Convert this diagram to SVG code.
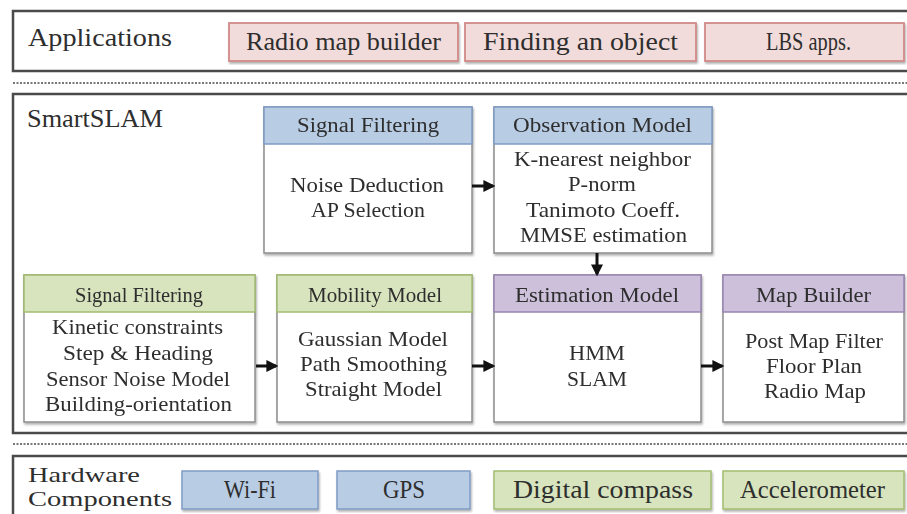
<svg xmlns="http://www.w3.org/2000/svg" width="907" height="514" viewBox="0 0 907 514">
<defs>
<filter id="sh" x="-5%" y="-5%" width="110%" height="115%">
<feDropShadow dx="1" dy="2" stdDeviation="1.2" flood-color="#000" flood-opacity="0.3"/>
</filter>
<marker id="ah" markerWidth="4" markerHeight="4" refX="3.2" refY="2" orient="auto" markerUnits="strokeWidth">
<path d="M0,0 L4,2 L0,4 Z" fill="#111"/>
</marker>
</defs>
<style>
text{font-family:"Liberation Serif","Times New Roman",serif;fill:#2e2e2e}
.panel{fill:#fff;stroke:#4a4a4a;stroke-width:2.5}
.dots{stroke:#777;stroke-width:2;stroke-dasharray:2 1.5}
.box{fill:#fff;stroke:#8c8c8c;stroke-width:1.5}
.pink{fill:#f2dcdb;stroke:#d08a88;stroke-width:1.8}
.blue{fill:#b8cce4;stroke:#7f9cc4;stroke-width:1.5}
.green{fill:#d7e4bd;stroke:#a3bd70;stroke-width:1.5}
.purple{fill:#ccc0da;stroke:#9a86b4;stroke-width:1.5}
.t{font-size:25px}
.hw{font-size:22px}
.h{font-size:20px;text-anchor:middle}
.b{font-size:21px;text-anchor:middle}
.l{font-size:25px;text-anchor:middle}
.arr{stroke:#111;stroke-width:3;fill:none;marker-end:url(#ah)}
</style>
<rect width="907" height="514" fill="#fff"/>

<g id="applications">
<rect class="panel" x="13" y="11" width="905" height="60"/>
<text class="t" x="28" y="46" textLength="144" lengthAdjust="spacingAndGlyphs">Applications</text>
<g filter="url(#sh)">
<rect class="pink" x="229" y="23" width="229" height="38"/>
<rect class="pink" x="465" y="23" width="231" height="38"/>
<rect class="pink" x="705" y="23" width="199" height="38"/>
</g>
<text class="l" x="343.5" y="50" textLength="195" lengthAdjust="spacingAndGlyphs">Radio map builder</text>
<text class="l" x="580.5" y="50" textLength="195" lengthAdjust="spacingAndGlyphs">Finding an object</text>
<text class="l" x="808.5" y="50" textLength="85" lengthAdjust="spacingAndGlyphs">LBS apps.</text>
</g>

<line class="dots" x1="13" y1="83" x2="907" y2="83"/>

<g id="smartslam">
<rect class="panel" x="13" y="94" width="905" height="339"/>
<text class="t" x="27" y="127" textLength="136" lengthAdjust="spacingAndGlyphs">SmartSLAM</text>
</g>

<g id="signal-filtering-top" filter="url(#sh)">
<rect class="box" x="264" y="107" width="208" height="146"/>
<rect class="blue" x="264" y="107" width="208" height="37"/>
<text class="h" x="368" y="132" textLength="142" lengthAdjust="spacingAndGlyphs">Signal Filtering</text>
<text class="b" x="367" y="192" textLength="154" lengthAdjust="spacingAndGlyphs">Noise Deduction</text>
<text class="b" x="368" y="217" textLength="114" lengthAdjust="spacingAndGlyphs">AP Selection</text>
</g>

<g id="observation-model" filter="url(#sh)">
<rect class="box" x="494" y="107" width="218" height="146"/>
<rect class="blue" x="494" y="107" width="218" height="37"/>
<text class="h" x="602.5" y="132" textLength="179" lengthAdjust="spacingAndGlyphs">Observation Model</text>
<text class="b" x="602.5" y="166" textLength="177" lengthAdjust="spacingAndGlyphs">K-nearest neighbor</text>
<text class="b" x="602" y="191" textLength="68" lengthAdjust="spacingAndGlyphs">P-norm</text>
<text class="b" x="603" y="217" textLength="154" lengthAdjust="spacingAndGlyphs">Tanimoto Coeff.</text>
<text class="b" x="603.5" y="242" textLength="167" lengthAdjust="spacingAndGlyphs">MMSE estimation</text>
</g>

<g id="signal-filtering-bottom" filter="url(#sh)">
<rect class="box" x="24" y="275" width="231" height="147"/>
<rect class="green" x="24" y="275" width="231" height="37"/>
<text class="h" x="139" y="302" textLength="128" lengthAdjust="spacingAndGlyphs">Signal Filtering</text>
<text class="b" x="137.5" y="334" textLength="171" lengthAdjust="spacingAndGlyphs">Kinetic constraints</text>
<text class="b" x="138" y="360" textLength="150" lengthAdjust="spacingAndGlyphs">Step &amp; Heading</text>
<text class="b" x="138" y="386" textLength="184" lengthAdjust="spacingAndGlyphs">Sensor Noise Model</text>
<text class="b" x="138.5" y="411" textLength="187" lengthAdjust="spacingAndGlyphs">Building-orientation</text>
</g>

<g id="mobility-model" filter="url(#sh)">
<rect class="box" x="277" y="275" width="195" height="147"/>
<rect class="green" x="277" y="275" width="195" height="37"/>
<text class="h" x="375" y="302" textLength="134" lengthAdjust="spacingAndGlyphs">Mobility Model</text>
<text class="b" x="373" y="346" textLength="150" lengthAdjust="spacingAndGlyphs">Gaussian Model</text>
<text class="b" x="373.5" y="371" textLength="147" lengthAdjust="spacingAndGlyphs">Path Smoothing</text>
<text class="b" x="373.5" y="396" textLength="137" lengthAdjust="spacingAndGlyphs">Straight Model</text>
</g>

<g id="estimation-model" filter="url(#sh)">
<rect class="box" x="494" y="275" width="207" height="147"/>
<rect class="purple" x="494" y="275" width="207" height="37"/>
<text class="h" x="597" y="302" textLength="164" lengthAdjust="spacingAndGlyphs">Estimation Model</text>
<text class="b" x="597" y="360" textLength="56" lengthAdjust="spacingAndGlyphs">HMM</text>
<text class="b" x="597" y="386" textLength="60" lengthAdjust="spacingAndGlyphs">SLAM</text>
</g>

<g id="map-builder" filter="url(#sh)">
<rect class="box" x="723" y="275" width="181" height="147"/>
<rect class="purple" x="723" y="275" width="181" height="37"/>
<text class="h" x="813.5" y="302" textLength="115" lengthAdjust="spacingAndGlyphs">Map Builder</text>
<text class="b" x="814" y="348" textLength="138" lengthAdjust="spacingAndGlyphs">Post Map Filter</text>
<text class="b" x="814" y="373" textLength="96" lengthAdjust="spacingAndGlyphs">Floor Plan</text>
<text class="b" x="815" y="398" textLength="102" lengthAdjust="spacingAndGlyphs">Radio Map</text>
</g>

<g id="connectors">
<line class="arr" x1="472" y1="186" x2="493" y2="186"/>
<line class="arr" x1="597" y1="253" x2="597" y2="274"/>
<line class="arr" x1="256" y1="366" x2="276" y2="366"/>
<line class="arr" x1="472" y1="366" x2="493" y2="366"/>
<line class="arr" x1="701" y1="366" x2="722" y2="366"/>
</g>

<line class="dots" x1="13" y1="444" x2="907" y2="444"/>

<g id="hardware">
<rect class="panel" x="13" y="456" width="905" height="70"/>
<text class="hw" x="28" y="482" textLength="112" lengthAdjust="spacingAndGlyphs">Hardware</text>
<text class="hw" x="28" y="506" textLength="144" lengthAdjust="spacingAndGlyphs">Components</text>
<g filter="url(#sh)">
<rect class="blue" x="182" y="471" width="136" height="38"/>
<rect class="blue" x="337" y="471" width="133" height="38"/>
<rect class="green" x="494" y="471" width="217" height="38"/>
<rect class="green" x="723" y="471" width="181" height="38"/>
</g>
<text class="l" x="250" y="498" textLength="52" lengthAdjust="spacingAndGlyphs">Wi-Fi</text>
<text class="l" x="404" y="498" textLength="42" lengthAdjust="spacingAndGlyphs">GPS</text>
<text class="l" x="603" y="498" textLength="180" lengthAdjust="spacingAndGlyphs">Digital compass</text>
<text class="l" x="812.5" y="498" textLength="145" lengthAdjust="spacingAndGlyphs">Accelerometer</text>
</g>
</svg>
